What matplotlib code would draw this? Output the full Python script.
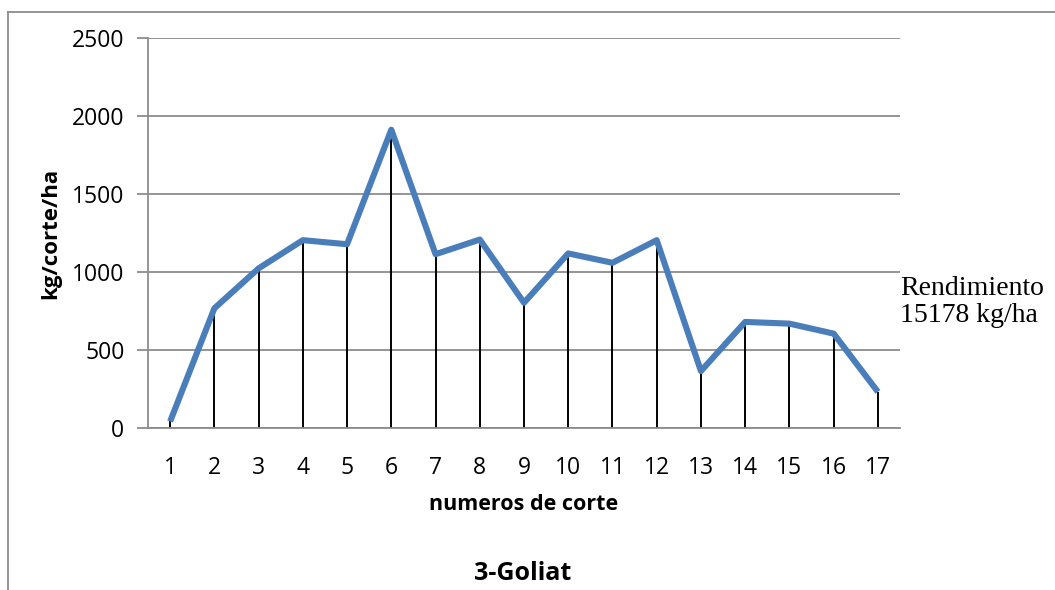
import matplotlib
matplotlib.use("Agg")
import matplotlib.pyplot as plt
from matplotlib.lines import Line2D

# Yield per cut (kg/corte/ha) for variety 3-Goliat
cortes = list(range(1, 18))
rendimiento = [42, 767, 1023, 1204, 1178, 1912, 1114, 1208, 803,
               1119, 1059, 1204, 365, 680, 669, 605, 232]
y_ticks = [0, 500, 1000, 1500, 2000, 2500]
total_text = "Rendimiento\n15178 kg/ha"

W, H, DPI = 1055, 590, 100
fig = plt.figure(figsize=(W / DPI, H / DPI), dpi=DPI)
fig.patch.set_facecolor("white")

sans = "Open Sans"
grid_c = "#8c8c8c"
line_c = "#4a7ebb"

ax = fig.add_axes([148 / W, 1 - 428 / H, (900 - 148) / W, (428 - 38) / H])
ax.set_xlim(0.5, 17.5)
ax.set_ylim(0, 2500)

# horizontal gridlines
for v in y_ticks:
    ax.axhline(v, color=grid_c, lw=1.3, zorder=1)

# drop lines from each point to the axis
ax.vlines(cortes, 0, rendimiento, color="black", lw=1.4, zorder=2)
ax.plot(cortes, rendimiento, color=line_c, lw=4.4, solid_joinstyle="round",
        solid_capstyle="butt", zorder=3)

for side in ["top", "right"]:
    ax.spines[side].set_visible(False)
for side in ["left", "bottom"]:
    ax.spines[side].set_color(grid_c)
    ax.spines[side].set_linewidth(1.3)

ax.set_yticks(y_ticks)
ax.set_yticklabels([str(v) for v in y_ticks], fontfamily=sans, fontsize=16.5)
ax.set_xticks(cortes)
ax.set_xticklabels([str(c) for c in cortes], fontfamily=sans, fontsize=16.5)
ax.tick_params(axis="y", length=8, width=1.3, color=grid_c, pad=9)
ax.tick_params(axis="x", length=0, pad=20)

ax.set_ylabel("kg/corte/ha", fontfamily=sans, fontsize=16, fontweight="bold",
              labelpad=8)
ax.set_xlabel("numeros de corte", fontfamily=sans, fontsize=15.5,
              fontweight="bold", labelpad=10)

fig.text(523 / W, 1 - 574 / H, "3-Goliat", fontfamily=sans, fontsize=18,
         fontweight="bold", ha="center", va="center")

fig.text(900 / W, 1 - 302 / H, total_text, fontfamily="Liberation Serif",
         fontsize=20, ha="left", va="center", linespacing=1.08)

# outer chart border (left and top edges)
fig.add_artist(Line2D([8 / W, 8 / W], [0, 1 - 12 / H], transform=fig.transFigure,
                      color=grid_c, lw=1.3))
fig.add_artist(Line2D([8 / W, 1], [1 - 12 / H, 1 - 12 / H], transform=fig.transFigure,
                      color=grid_c, lw=1.3))

fig.savefig("out.png", dpi=DPI, facecolor="white")
